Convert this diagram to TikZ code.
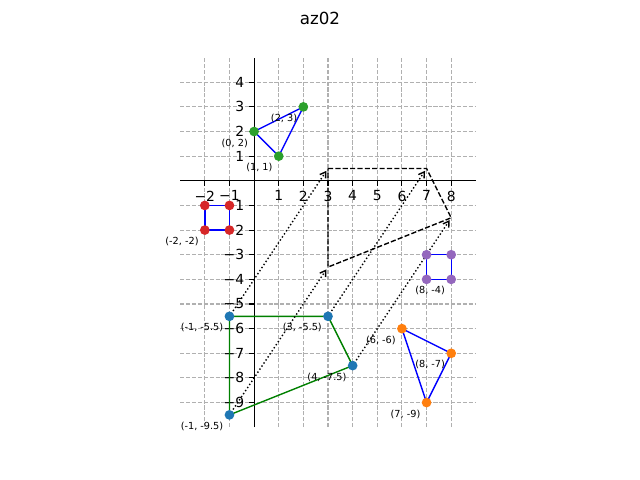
\documentclass[tikz,border=0pt]{standalone}
\usepackage{fontspec}
\setmainfont{DejaVu Sans}
\usetikzlibrary{arrows.meta}
\definecolor{gridgray}{HTML}{B0B0B0}
\definecolor{tabblue}{HTML}{1F77B4}
\definecolor{taborange}{HTML}{FF7F0E}
\definecolor{tabgreen}{HTML}{2CA02C}
\definecolor{tabred}{HTML}{D62728}
\definecolor{tabpurple}{HTML}{9467BD}
\definecolor{lineblue}{HTML}{0000FF}
\definecolor{linegreen}{HTML}{008000}
\tikzset{
 gridline/.style={draw=gridgray, line width=0.8pt, dash pattern=on 2.96pt off 1.28pt},
 axisline/.style={draw=black, line width=0.8pt},
 tickmark/.style={draw=black, line width=0.8pt},
 ticklabel/.style={font=\fontsize{10}{12}\selectfont, inner sep=0pt},
 ptlabel/.style={font=\fontsize{7}{8}\selectfont, inner sep=0pt, anchor=north east, xshift=-4.3pt, yshift=-5pt},
 edgeb/.style={draw=lineblue, line width=1pt, line join=round},
 edgeg/.style={draw=linegreen, line width=1pt, line join=round},
 dashpoly/.style={draw=black, line width=1pt, dash pattern=on 3.7pt off 1.6pt},
 dotarrow/.style={draw=black, line width=1pt, dash pattern=on 1pt off 1.65pt, -{Straight Barb[length=4pt,width=5pt]}, shorten <=2pt, shorten >=2pt},
 marker/.style={circle, fill=#1, inner sep=0pt, minimum size=7pt},
}
\begin{document}
\begin{tikzpicture}[x=17.741pt, y=17.741pt]
\useasboundingbox (-182.95pt,-215.42pt) rectangle (277.85pt,130.18pt);
% title
\node[font=\fontsize{12}{14}\selectfont, inner sep=0pt] (title) at (47.45pt,117.2pt) {az02};
% grid
\foreach \x in {-2,...,8} {\draw[gridline] (\x,-10) -- (\x,5);}
\foreach \y in {-9,...,4} {\draw[gridline] (-3,\y) -- (9,\y);}
% axes
\coordinate (xl) at (-3,0);
\coordinate (xr) at (9,0);
\coordinate (yb) at (0,-10);
\coordinate (yt) at (0,5);
\draw[axisline] (xl) -- (xr);
\draw[axisline] (yb) -- (yt);
\foreach \x/\t in {-2/−2,-1/−1,1/1,2/2,3/3,4/4,5/5,6/6,7/7,8/8} {
  \draw[tickmark] (\x,0) -- ++(0,-3.5pt);
  \node[ticklabel, anchor=north] at ([yshift=-7pt]\x,0) {\t};
}
\foreach \y/\t in {4/4,3/3,2/2,1/1,-1/−1,-2/−2,-3/−3,-4/−4,-5/−5,-6/−6,-7/−7,-8/−8,-9/−9} {
  \draw[tickmark] (0,\y) -- ++(-3.5pt,0);
  \node[ticklabel, anchor=east] at ([xshift=-7pt]0,\y) {\t};
}
% points
\coordinate (G1) at (0,2);
\coordinate (G2) at (1,1);
\coordinate (G3) at (2,3);
\coordinate (R1) at (-2,-1);
\coordinate (R2) at (-1,-1);
\coordinate (R3) at (-1,-2);
\coordinate (R4) at (-2,-2);
\coordinate (P1) at (7,-3);
\coordinate (P2) at (8,-3);
\coordinate (P3) at (8,-4);
\coordinate (P4) at (7,-4);
\coordinate (O1) at (6,-6);
\coordinate (O2) at (8,-7);
\coordinate (O3) at (7,-9);
\coordinate (B1) at (-1,-5.5);
\coordinate (B2) at (3,-5.5);
\coordinate (B3) at (4,-7.5);
\coordinate (B4) at (-1,-9.5);
\coordinate (D1) at (3,0.5);
\coordinate (D2) at (7,0.5);
\coordinate (D3) at (8,-1.5);
\coordinate (D4) at (3,-3.5);
% polygons
\draw[edgeb] (G1) -- (G3) -- (G2) -- cycle;
\draw[edgeb] (R1) -- (R2) -- (R3) -- (R4) -- cycle;
\draw[edgeb] (P1) -- (P2) -- (P3) -- (P4) -- cycle;
\draw[edgeb] (O1) -- (O2) -- (O3) -- cycle;
\draw[edgeg] (B1) -- (B2) -- (B3) -- (B4) -- cycle;
\draw[dashpoly] (D1) -- (D2) -- (D3) -- (D4) -- cycle;
% arrows
\draw[dotarrow] (B1) -- (D1);
\draw[dotarrow] (B2) -- (D2);
\draw[dotarrow] (B3) -- (D3);
\draw[dotarrow] (B4) -- (D4);
% markers
\foreach \p in {G1,G2,G3} {\node[marker=tabgreen] (m\p) at (\p) {};}
\foreach \p in {R1,R2,R3,R4} {\node[marker=tabred] (m\p) at (\p) {};}
\foreach \p in {P1,P2,P3,P4} {\node[marker=tabpurple] (m\p) at (\p) {};}
\foreach \p in {O1,O2,O3} {\node[marker=taborange] (m\p) at (\p) {};}
\foreach \p in {B1,B2,B3,B4} {\node[marker=tabblue] (m\p) at (\p) {};}
% labels
\node[ptlabel] (lG1) at (G1) {(0, 2)};
\node[ptlabel] (lG2) at (G2) {(1, 1)};
\node[ptlabel] (lG3) at (G3) {(2, 3)};
\node[ptlabel] (lR4) at (R4) {(-2, -2)};
\node[ptlabel] (lP3) at (P3) {(8, -4)};
\node[ptlabel] (lO1) at (O1) {(6, -6)};
\node[ptlabel] (lO2) at (O2) {(8, -7)};
\node[ptlabel] (lO3) at (O3) {(7, -9)};
\node[ptlabel] (lB1) at (B1) {(-1, -5.5)};
\node[ptlabel] (lB2) at (B2) {(3, -5.5)};
\node[ptlabel] (lB3) at (B3) {(4, -7.5)};
\node[ptlabel] (lB4) at (B4) {(-1, -9.5)};
\end{tikzpicture}
\end{document}
